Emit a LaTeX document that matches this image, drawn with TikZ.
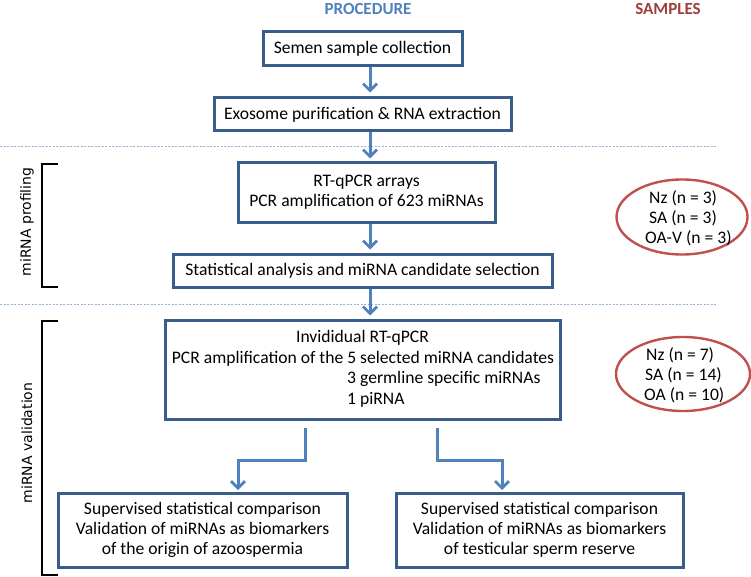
\documentclass[tikz,border=0pt]{standalone}
\usepackage{fontspec}
\setmainfont{Carlito}
\newfontfamily\sidefont{DejaVu Sans}
\usetikzlibrary{arrows.meta,shapes.geometric}
\definecolor{boxblue}{HTML}{385D8A}
\definecolor{arrblue}{HTML}{4F81BD}
\definecolor{dashblue}{HTML}{95B3D7}
\definecolor{ellred}{HTML}{C0504D}
\definecolor{samplered}{HTML}{A03E3C}
\begin{document}
\begin{tikzpicture}[x=1pt,y=-1pt,
  stepbox/.style={draw=boxblue, line width=3pt, fill=white, inner sep=0pt, align=center,
    font=\fontsize{17.6}{20}\selectfont},
  btxt/.style={font=\fontsize{17.6}{20}\selectfont, inner sep=0pt},
  arr/.style={draw=arrblue, line width=3pt, -{Straight Barb[length=7pt,width=14pt,line width=2.8pt]}},
  sep/.style={draw=dashblue, line width=1pt, dash pattern=on 2pt off 1.5pt},
  brk/.style={draw=black, line width=1.5pt},
  grp/.style={ellipse, draw=ellred, line width=2.4pt, minimum width=#1, inner sep=0pt},
  etext/.style={font=\fontsize{17.6}{20}\selectfont, align=left, anchor=west, inner sep=0pt},
  side/.style={font=\sidefont\fontsize{14}{16}\selectfont, rotate=90, inner sep=0pt},
  head/.style={font=\bfseries\fontsize{17}{19}\selectfont, inner sep=0pt}
]
\useasboundingbox (0,0) rectangle (751,577);

% headers
\node[head, text=arrblue] (hproc) at (368,9) {PROCEDURE};
\node[head, text=samplered] (hsamp) at (668,9) {SAMPLES};

% separators
\coordinate (s1l) at (0,147); \coordinate (s1r) at (717,147);
\coordinate (s2l) at (0,304); \coordinate (s2r) at (717,304);
\draw[sep] (s1l) -- (s1r);
\draw[sep] (s2l) -- (s2r);

% boxes
\node[stepbox, minimum width=199, minimum height=34] (b1) at (362.5,49) {Semen sample collection};
\node[stepbox, minimum width=297, minimum height=33] (b2) at (362.5,114.5) {Exosome purification \& RNA extraction};
\node[stepbox, minimum width=257, minimum height=59] (b3) at (366.5,192.5) {RT-qPCR arrays\\PCR amplification of 623 miRNAs};
\node[stepbox, minimum width=379, minimum height=33] (b4) at (362.5,270.5) {Statistical analysis and miRNA candidate selection};
\node[stepbox, minimum width=395, minimum height=99] (b5) at (362.5,369.5) {};
\node[btxt] (b5t1) at (362.5,338) {Invididual RT-qPCR};
\node[btxt] (b5t2) at (363,358.5) {PCR amplification of the 5 selected miRNA candidates};
\node[btxt, anchor=west] (b5t3) at (347,379) {3 germline specific miRNAs};
\node[btxt, anchor=west] (b5t4) at (347,399.5) {1 piRNA};
\node[stepbox, minimum width=289, minimum height=74] (b6) at (202.5,530) {Supervised statistical comparison\\Validation of miRNAs as biomarkers\\of the origin of azoospermia};
\node[stepbox, minimum width=287, minimum height=74] (b7) at (539.5,530) {Supervised statistical comparison\\Validation of miRNAs as biomarkers\\of testicular sperm reserve};

% vertical arrows
\coordinate (ax) at (370,0);
\draw[arr, shorten >=4pt] (b1.south -| ax) -- (b2.north -| ax);
\draw[arr, shorten >=3pt] (b2.south -| ax) -- (b3.north -| ax);
\draw[arr, shorten >=3pt] (b3.south -| ax) -- (b4.north -| ax);
\draw[arr, shorten >=3pt] (b4.south -| ax) -- (b5.north -| ax);

% split arrows
\coordinate (l0) at (305,428); \coordinate (lx) at (238,0);
\coordinate (r0) at (437,428); \coordinate (rx) at (502,0);
\draw[arr, shorten >=1.5pt] (l0) |- (238,460) -- (b6.north -| lx);
\draw[arr, shorten >=1.5pt] (r0) |- (502,460) -- (b7.north -| rx);

% brackets
\coordinate (p1) at (58,164); \coordinate (p2) at (42,164); \coordinate (p3) at (42,287); \coordinate (p4) at (58,287);
\draw[brk] (p1) -- (p2) -- (p3) -- (p4);
\coordinate (v1) at (58,321); \coordinate (v2) at (42,321); \coordinate (v3) at (42,575); \coordinate (v4) at (58,575);
\draw[brk] (v1) -- (v2) -- (v3) -- (v4);
\node[side] (lprof) at (27,222) {miRNA profiling};
\node[side] (lval) at (27,443) {miRNA validation};

% sample ellipses
\node[grp=131, minimum height=75] (e1) at (682,217) {};
\node[etext] (e1a) at (649,198) {Nz (n = 3)};
\node[etext] (e1b) at (649,218) {SA (n = 3)};
\node[etext] (e1c) at (645,238) {OA-V (n = 3)};
\node[grp=134, minimum height=74] (e2) at (683,374) {};
\node[etext] (e2a) at (646,355) {Nz (n = 7)};
\node[etext] (e2b) at (645,375) {SA (n = 14)};
\node[etext] (e2c) at (644,395) {OA (n = 10)};
\end{tikzpicture}
\end{document}
